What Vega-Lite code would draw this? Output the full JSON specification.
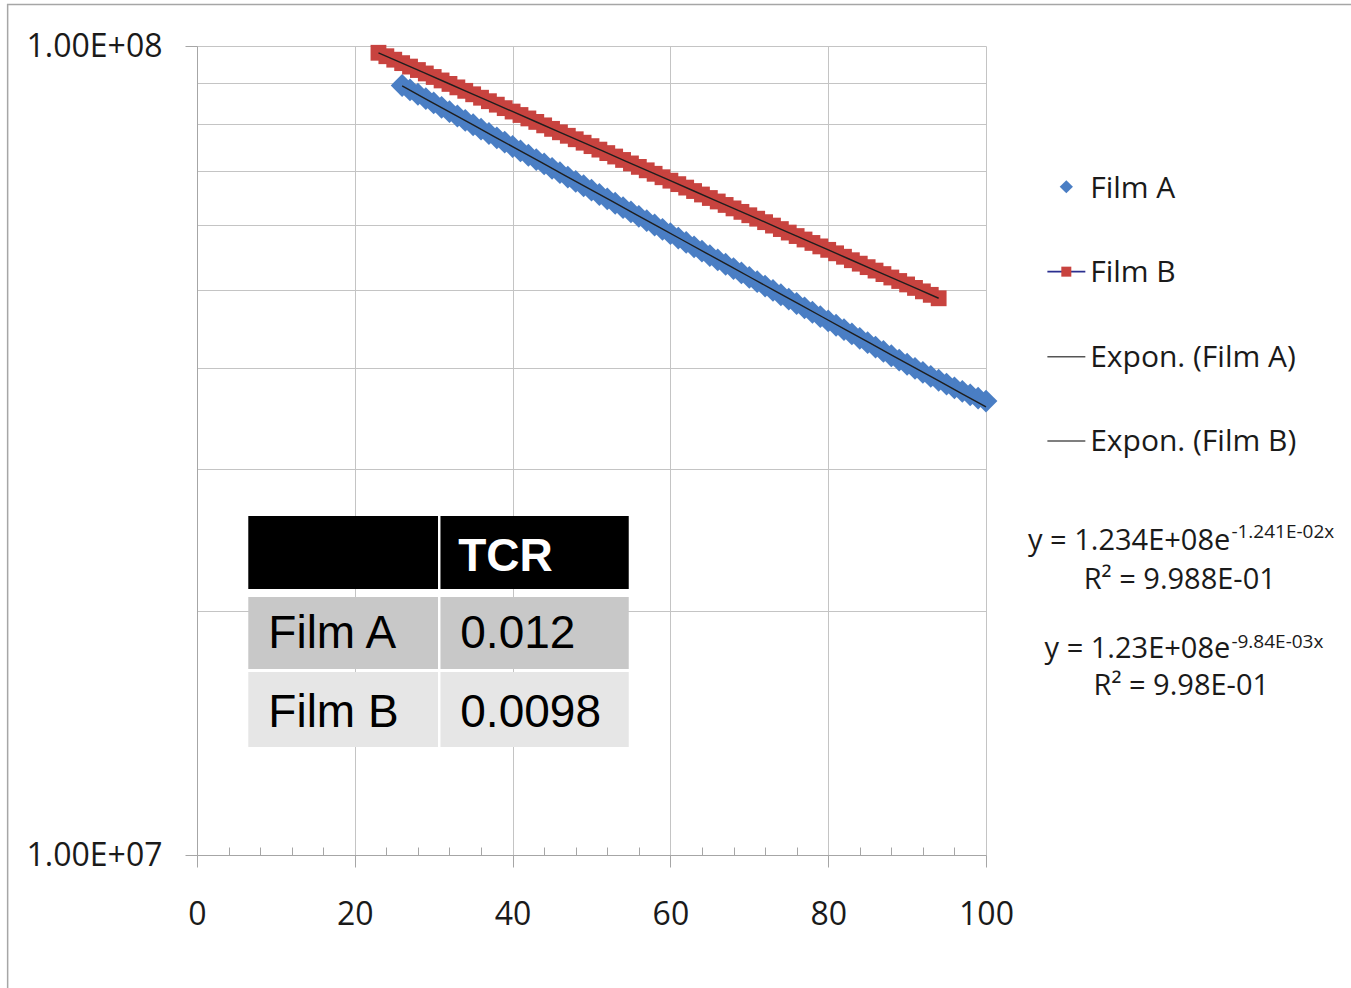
{
  "$schema": "https://vega.github.io/schema/vega-lite/v6.json",
  "width": 789,
  "height": 809,
  "autosize": {"type": "none"},
  "padding": {"left": 197, "top": 46, "right": 365, "bottom": 133},
  "background": "white",
  "config": {"view": {"stroke": null}, "font": "Open Sans"},
  "data": {"name": "films"},
  "datasets": {
    "films": [
      {"series": "Film A", "x": 26, "y": 8.937e7}, {"series": "Film A", "x": 27, "y": 8.826e7}, {"series": "Film A", "x": 28, "y": 8.717e7}, {"series": "Film A", "x": 29, "y": 8.609e7}, {"series": "Film A", "x": 30, "y": 8.504e7},
      {"series": "Film A", "x": 31, "y": 8.399e7}, {"series": "Film A", "x": 32, "y": 8.295e7}, {"series": "Film A", "x": 33, "y": 8.193e7}, {"series": "Film A", "x": 34, "y": 8.092e7}, {"series": "Film A", "x": 35, "y": 7.992e7},
      {"series": "Film A", "x": 36, "y": 7.893e7}, {"series": "Film A", "x": 37, "y": 7.796e7}, {"series": "Film A", "x": 38, "y": 7.700e7}, {"series": "Film A", "x": 39, "y": 7.605e7}, {"series": "Film A", "x": 40, "y": 7.512e7},
      {"series": "Film A", "x": 41, "y": 7.419e7}, {"series": "Film A", "x": 42, "y": 7.328e7}, {"series": "Film A", "x": 43, "y": 7.238e7}, {"series": "Film A", "x": 44, "y": 7.149e7}, {"series": "Film A", "x": 45, "y": 7.060e7},
      {"series": "Film A", "x": 46, "y": 6.973e7}, {"series": "Film A", "x": 47, "y": 6.887e7}, {"series": "Film A", "x": 48, "y": 6.802e7}, {"series": "Film A", "x": 49, "y": 6.718e7}, {"series": "Film A", "x": 50, "y": 6.635e7},
      {"series": "Film A", "x": 51, "y": 6.553e7}, {"series": "Film A", "x": 52, "y": 6.472e7}, {"series": "Film A", "x": 53, "y": 6.392e7}, {"series": "Film A", "x": 54, "y": 6.313e7}, {"series": "Film A", "x": 55, "y": 6.236e7},
      {"series": "Film A", "x": 56, "y": 6.159e7}, {"series": "Film A", "x": 57, "y": 6.083e7}, {"series": "Film A", "x": 58, "y": 6.008e7}, {"series": "Film A", "x": 59, "y": 5.934e7}, {"series": "Film A", "x": 60, "y": 5.861e7},
      {"series": "Film A", "x": 61, "y": 5.789e7}, {"series": "Film A", "x": 62, "y": 5.718e7}, {"series": "Film A", "x": 63, "y": 5.647e7}, {"series": "Film A", "x": 64, "y": 5.577e7}, {"series": "Film A", "x": 65, "y": 5.508e7},
      {"series": "Film A", "x": 66, "y": 5.440e7}, {"series": "Film A", "x": 67, "y": 5.373e7}, {"series": "Film A", "x": 68, "y": 5.307e7}, {"series": "Film A", "x": 69, "y": 5.242e7}, {"series": "Film A", "x": 70, "y": 5.177e7},
      {"series": "Film A", "x": 71, "y": 5.113e7}, {"series": "Film A", "x": 72, "y": 5.050e7}, {"series": "Film A", "x": 73, "y": 4.988e7}, {"series": "Film A", "x": 74, "y": 4.926e7}, {"series": "Film A", "x": 75, "y": 4.865e7},
      {"series": "Film A", "x": 76, "y": 4.805e7}, {"series": "Film A", "x": 77, "y": 4.746e7}, {"series": "Film A", "x": 78, "y": 4.687e7}, {"series": "Film A", "x": 79, "y": 4.629e7}, {"series": "Film A", "x": 80, "y": 4.573e7},
      {"series": "Film A", "x": 81, "y": 4.517e7}, {"series": "Film A", "x": 82, "y": 4.461e7}, {"series": "Film A", "x": 83, "y": 4.406e7}, {"series": "Film A", "x": 84, "y": 4.352e7}, {"series": "Film A", "x": 85, "y": 4.298e7},
      {"series": "Film A", "x": 86, "y": 4.245e7}, {"series": "Film A", "x": 87, "y": 4.193e7}, {"series": "Film A", "x": 88, "y": 4.141e7}, {"series": "Film A", "x": 89, "y": 4.090e7}, {"series": "Film A", "x": 90, "y": 4.042e7},
      {"series": "Film A", "x": 91, "y": 3.995e7}, {"series": "Film A", "x": 92, "y": 3.950e7}, {"series": "Film A", "x": 93, "y": 3.905e7}, {"series": "Film A", "x": 94, "y": 3.862e7}, {"series": "Film A", "x": 95, "y": 3.820e7},
      {"series": "Film A", "x": 96, "y": 3.780e7}, {"series": "Film A", "x": 97, "y": 3.742e7}, {"series": "Film A", "x": 98, "y": 3.705e7}, {"series": "Film A", "x": 99, "y": 3.670e7}, {"series": "Film A", "x": 100, "y": 3.640e7},
      {"series": "Film B", "x": 23, "y": 9.809e7}, {"series": "Film B", "x": 24, "y": 9.713e7}, {"series": "Film B", "x": 25, "y": 9.618e7}, {"series": "Film B", "x": 26, "y": 9.524e7}, {"series": "Film B", "x": 27, "y": 9.431e7},
      {"series": "Film B", "x": 28, "y": 9.339e7}, {"series": "Film B", "x": 29, "y": 9.248e7}, {"series": "Film B", "x": 30, "y": 9.156e7}, {"series": "Film B", "x": 31, "y": 9.066e7}, {"series": "Film B", "x": 32, "y": 8.977e7},
      {"series": "Film B", "x": 33, "y": 8.889e7}, {"series": "Film B", "x": 34, "y": 8.802e7}, {"series": "Film B", "x": 35, "y": 8.716e7}, {"series": "Film B", "x": 36, "y": 8.631e7}, {"series": "Film B", "x": 37, "y": 8.546e7},
      {"series": "Film B", "x": 38, "y": 8.462e7}, {"series": "Film B", "x": 39, "y": 8.379e7}, {"series": "Film B", "x": 40, "y": 8.298e7}, {"series": "Film B", "x": 41, "y": 8.217e7}, {"series": "Film B", "x": 42, "y": 8.137e7},
      {"series": "Film B", "x": 43, "y": 8.057e7}, {"series": "Film B", "x": 44, "y": 7.978e7}, {"series": "Film B", "x": 45, "y": 7.899e7}, {"series": "Film B", "x": 46, "y": 7.822e7}, {"series": "Film B", "x": 47, "y": 7.745e7},
      {"series": "Film B", "x": 48, "y": 7.669e7}, {"series": "Film B", "x": 49, "y": 7.594e7}, {"series": "Film B", "x": 50, "y": 7.520e7}, {"series": "Film B", "x": 51, "y": 7.446e7}, {"series": "Film B", "x": 52, "y": 7.373e7},
      {"series": "Film B", "x": 53, "y": 7.301e7}, {"series": "Film B", "x": 54, "y": 7.230e7}, {"series": "Film B", "x": 55, "y": 7.159e7}, {"series": "Film B", "x": 56, "y": 7.089e7}, {"series": "Film B", "x": 57, "y": 7.020e7},
      {"series": "Film B", "x": 58, "y": 6.951e7}, {"series": "Film B", "x": 59, "y": 6.883e7}, {"series": "Film B", "x": 60, "y": 6.816e7}, {"series": "Film B", "x": 61, "y": 6.749e7}, {"series": "Film B", "x": 62, "y": 6.683e7},
      {"series": "Film B", "x": 63, "y": 6.618e7}, {"series": "Film B", "x": 64, "y": 6.553e7}, {"series": "Film B", "x": 65, "y": 6.488e7}, {"series": "Film B", "x": 66, "y": 6.424e7}, {"series": "Film B", "x": 67, "y": 6.361e7},
      {"series": "Film B", "x": 68, "y": 6.299e7}, {"series": "Film B", "x": 69, "y": 6.237e7}, {"series": "Film B", "x": 70, "y": 6.177e7}, {"series": "Film B", "x": 71, "y": 6.117e7}, {"series": "Film B", "x": 72, "y": 6.057e7},
      {"series": "Film B", "x": 73, "y": 5.998e7}, {"series": "Film B", "x": 74, "y": 5.939e7}, {"series": "Film B", "x": 75, "y": 5.880e7}, {"series": "Film B", "x": 76, "y": 5.822e7}, {"series": "Film B", "x": 77, "y": 5.765e7},
      {"series": "Film B", "x": 78, "y": 5.709e7}, {"series": "Film B", "x": 79, "y": 5.653e7}, {"series": "Film B", "x": 80, "y": 5.598e7}, {"series": "Film B", "x": 81, "y": 5.543e7}, {"series": "Film B", "x": 82, "y": 5.489e7},
      {"series": "Film B", "x": 83, "y": 5.435e7}, {"series": "Film B", "x": 84, "y": 5.382e7}, {"series": "Film B", "x": 85, "y": 5.329e7}, {"series": "Film B", "x": 86, "y": 5.277e7}, {"series": "Film B", "x": 87, "y": 5.225e7},
      {"series": "Film B", "x": 88, "y": 5.174e7}, {"series": "Film B", "x": 89, "y": 5.123e7}, {"series": "Film B", "x": 90, "y": 5.073e7}, {"series": "Film B", "x": 91, "y": 5.023e7}, {"series": "Film B", "x": 92, "y": 4.974e7},
      {"series": "Film B", "x": 93, "y": 4.925e7}, {"series": "Film B", "x": 94, "y": 4.877e7}
    ]
  },
  "layer": [
    {
      "mark": {"type": "point", "filled": true, "opacity": 1},
      "encoding": {
        "x": {
          "field": "x", "type": "quantitative",
          "scale": {"domain": [0, 100], "nice": false, "zero": false},
          "axis": {
            "orient": "bottom", "values": [0, 20, 40, 60, 80, 100], "title": null,
            "grid": true, "gridColor": "#c4c4c4", "gridWidth": 1,
            "domainColor": "#a6a6a6", "tickColor": "#a6a6a6", "tickSize": 12,
            "labelFont": "Open Sans", "labelFontSize": 32, "labelColor": "#1a1a1a",
            "labelPadding": 32, "labelFlush": false, "labelOverlap": false
          }
        },
        "y": {
          "field": "y", "type": "quantitative",
          "scale": {"type": "log", "domain": [10000000, 100000000], "nice": false},
          "axis": {
            "orient": "left",
            "values": [10000000, 20000000, 30000000, 40000000, 50000000, 60000000, 70000000, 80000000, 90000000, 100000000],
            "title": null, "grid": true, "gridColor": "#c4c4c4", "gridWidth": 1,
            "domainColor": "#a6a6a6", "tickColor": "#a6a6a6", "tickSize": 12,
            "tickOpacity": {"condition": {"test": "datum.value > 99000000 || datum.value < 10100000", "value": 1}, "value": 0},
            "labelExpr": "datum.value > 99000000 ? '1.00E+08' : (datum.value < 10100000 ? '1.00E+07' : '')",
            "labelFont": "Open Sans", "labelFontSize": 32, "labelColor": "#1a1a1a",
            "labelPadding": 23, "labelOverlap": false
          }
        },
        "color": {
          "field": "series", "type": "nominal",
          "scale": {"domain": ["Film A", "Film B"], "range": ["#4a7ec4", "#c8433f"]},
          "legend": null
        },
        "shape": {
          "field": "series", "type": "nominal",
          "scale": {"domain": ["Film A", "Film B"], "range": ["diamond", "square"]},
          "legend": null
        },
        "size": {
          "field": "series", "type": "ordinal",
          "scale": {"domain": ["Film A", "Film B"], "range": [520, 250]},
          "legend": null
        }
      }
    },
    {
      "transform": [{"regression": "y", "on": "x", "groupby": ["series"], "method": "exp"}],
      "mark": {"type": "line", "color": "#1e1e1e", "strokeWidth": 1.4},
      "encoding": {
        "x": {
          "field": "x", "type": "quantitative",
          "axis": {
            "orient": "bottom", "title": null, "grid": false, "labels": false, "domain": false,
            "values": [4, 8, 12, 16, 24, 28, 32, 36, 44, 48, 52, 56, 64, 68, 72, 76, 84, 88, 92, 96],
            "tickSize": -8, "tickColor": "#a6a6a6"
          }
        },
        "y": {"field": "y", "type": "quantitative"},
        "detail": {"field": "series"}
      }
    },
    {
      "data": {"values": [{"frame": "chart area"}]},
      "mark": {"type": "rect", "fill": "transparent", "stroke": "#a6a6a6", "strokeWidth": 1.5},
      "encoding": {
        "x": {"datum": -24.0, "type": "quantitative", "axis": null},
        "x2": {"datum": 150},
        "y": {"datum": 112530000, "type": "quantitative"},
        "y2": {"datum": 6000000}
      }
    },
    {
      "data": {"values": [{"label": "Film A"}]},
      "mark": {"type": "point", "shape": "diamond", "filled": true, "opacity": 1, "size": 175, "color": "#4a7ec4"},
      "encoding": {
        "x": {"datum": 110.18, "type": "quantitative", "axis": null},
        "y": {"datum": 66990000, "type": "quantitative"}
      }
    },
    {
      "data": {"values": [{"label": "Film B"}]},
      "mark": {"type": "rule", "color": "#2a2f8f", "strokeWidth": 1.6},
      "encoding": {
        "x": {"datum": 107.78, "type": "quantitative", "axis": null},
        "x2": {"datum": 112.59},
        "y": {"datum": 52610000, "type": "quantitative"}
      }
    },
    {
      "data": {"values": [{"label": "Film B"}]},
      "mark": {"type": "point", "shape": "square", "filled": true, "opacity": 1, "size": 100, "color": "#c8433f"},
      "encoding": {
        "x": {"datum": 110.18, "type": "quantitative", "axis": null},
        "y": {"datum": 52610000, "type": "quantitative"}
      }
    },
    {
      "data": {"values": [{"label": "Expon. (Film A)"}]},
      "mark": {"type": "rule", "color": "#555555", "strokeWidth": 1.5},
      "encoding": {
        "x": {"datum": 107.78, "type": "quantitative", "axis": null},
        "x2": {"datum": 112.59},
        "y": {"datum": 41300000, "type": "quantitative"}
      }
    },
    {
      "data": {"values": [{"label": "Expon. (Film B)"}]},
      "mark": {"type": "rule", "color": "#555555", "strokeWidth": 1.5},
      "encoding": {
        "x": {"datum": 107.78, "type": "quantitative", "axis": null},
        "x2": {"datum": 112.59},
        "y": {"datum": 32490000, "type": "quantitative"}
      }
    },
    {
      "data": {"values": [{"label": "Film A"}]},
      "mark": {"type": "text", "align": "left", "baseline": "middle", "font": "Open Sans", "fontSize": 30, "color": "#1a1a1a"},
      "encoding": {
        "x": {"datum": 113.2, "type": "quantitative", "axis": null},
        "y": {"datum": 66630000, "type": "quantitative"},
        "text": {"field": "label"}
      }
    },
    {
      "data": {"values": [{"label": "Film B"}]},
      "mark": {"type": "text", "align": "left", "baseline": "middle", "font": "Open Sans", "fontSize": 30, "color": "#1a1a1a"},
      "encoding": {
        "x": {"datum": 113.2, "type": "quantitative", "axis": null},
        "y": {"datum": 52360000, "type": "quantitative"},
        "text": {"field": "label"}
      }
    },
    {
      "data": {"values": [{"label": "Expon. (Film A)"}]},
      "mark": {"type": "text", "align": "left", "baseline": "middle", "font": "Open Sans", "fontSize": 30, "color": "#1a1a1a"},
      "encoding": {
        "x": {"datum": 113.2, "type": "quantitative", "axis": null},
        "y": {"datum": 41100000, "type": "quantitative"},
        "text": {"field": "label"}
      }
    },
    {
      "data": {"values": [{"label": "Expon. (Film B)"}]},
      "mark": {"type": "text", "align": "left", "baseline": "middle", "font": "Open Sans", "fontSize": 30, "color": "#1a1a1a"},
      "encoding": {
        "x": {"datum": 113.2, "type": "quantitative", "axis": null},
        "y": {"datum": 32430000, "type": "quantitative"},
        "text": {"field": "label"}
      }
    },
    {
      "data": {"values": [{"t": "y = 1.234E+08e"}]},
      "mark": {"type": "text", "align": "right", "baseline": "middle", "font": "Open Sans", "fontSize": 29, "color": "#1a1a1a"},
      "encoding": {
        "x": {"datum": 130.96, "type": "quantitative", "axis": null},
        "y": {"datum": 24445000, "type": "quantitative"},
        "text": {"field": "t"}
      }
    },
    {
      "data": {"values": [{"t": "-1.241E-02x"}]},
      "mark": {"type": "text", "align": "left", "baseline": "middle", "font": "Open Sans", "fontSize": 19, "color": "#1a1a1a"},
      "encoding": {
        "x": {"datum": 131.1, "type": "quantitative", "axis": null},
        "y": {"datum": 25100000, "type": "quantitative"},
        "text": {"field": "t"}
      }
    },
    {
      "data": {"values": [{"t": "R² = 9.988E-01"}]},
      "mark": {"type": "text", "align": "center", "baseline": "middle", "font": "Open Sans", "fontSize": 29, "color": "#1a1a1a"},
      "encoding": {
        "x": {"datum": 124.56, "type": "quantitative", "axis": null},
        "y": {"datum": 21875000, "type": "quantitative"},
        "text": {"field": "t"}
      }
    },
    {
      "data": {"values": [{"t": "y = 1.23E+08e"}]},
      "mark": {"type": "text", "align": "right", "baseline": "middle", "font": "Open Sans", "fontSize": 29, "color": "#1a1a1a"},
      "encoding": {
        "x": {"datum": 130.96, "type": "quantitative", "axis": null},
        "y": {"datum": 17960000, "type": "quantitative"},
        "text": {"field": "t"}
      }
    },
    {
      "data": {"values": [{"t": "-9.84E-03x"}]},
      "mark": {"type": "text", "align": "left", "baseline": "middle", "font": "Open Sans", "fontSize": 19, "color": "#1a1a1a"},
      "encoding": {
        "x": {"datum": 131.1, "type": "quantitative", "axis": null},
        "y": {"datum": 18340000, "type": "quantitative"},
        "text": {"field": "t"}
      }
    },
    {
      "data": {"values": [{"t": "R² = 9.98E-01"}]},
      "mark": {"type": "text", "align": "center", "baseline": "middle", "font": "Open Sans", "fontSize": 29, "color": "#1a1a1a"},
      "encoding": {
        "x": {"datum": 124.75, "type": "quantitative", "axis": null},
        "y": {"datum": 16180000, "type": "quantitative"},
        "text": {"field": "t"}
      }
    },
    {
      "data": {"values": [{"row": "header"}]},
      "mark": {"type": "rect", "fill": "#000000"},
      "encoding": {
        "x": {"datum": 6.5, "type": "quantitative", "axis": null},
        "x2": {"datum": 54.72},
        "y": {"datum": 26245000, "type": "quantitative"},
        "y2": {"datum": 21322000}
      }
    },
    {
      "data": {"values": [{"row": "Film A"}]},
      "mark": {"type": "rect", "fill": "#c8c8c8"},
      "encoding": {
        "x": {"datum": 6.5, "type": "quantitative", "axis": null},
        "x2": {"datum": 54.72},
        "y": {"datum": 20842000, "type": "quantitative"},
        "y2": {"datum": 16982000}
      }
    },
    {
      "data": {"values": [{"row": "Film B"}]},
      "mark": {"type": "rect", "fill": "#e6e6e6"},
      "encoding": {
        "x": {"datum": 6.5, "type": "quantitative", "axis": null},
        "x2": {"datum": 54.72},
        "y": {"datum": 16838000, "type": "quantitative"},
        "y2": {"datum": 13600000}
      }
    },
    {
      "data": {"values": [{"divider": "column"}]},
      "mark": {"type": "rule", "color": "#ffffff", "strokeWidth": 2.5},
      "encoding": {
        "x": {"datum": 30.7, "type": "quantitative", "axis": null},
        "y": {"datum": 26300000, "type": "quantitative"},
        "y2": {"datum": 13550000}
      }
    },
    {
      "data": {"values": [{"text": "TCR"}]},
      "mark": {"type": "text", "align": "left", "baseline": "middle", "font": "Liberation Sans", "fontSize": 46, "fontWeight": "bold", "color": "#ffffff"},
      "encoding": {
        "x": {"datum": 33.1, "type": "quantitative", "axis": null},
        "y": {"datum": 23373000, "type": "quantitative"},
        "text": {"field": "text"}
      }
    },
    {
      "data": {"values": [{"text": "Film A"}]},
      "mark": {"type": "text", "align": "left", "baseline": "middle", "font": "Liberation Sans", "fontSize": 46, "color": "#000000"},
      "encoding": {
        "x": {"datum": 9.04, "type": "quantitative", "axis": null},
        "y": {"datum": 18752000, "type": "quantitative"},
        "text": {"field": "text"}
      }
    },
    {
      "data": {"values": [{"text": "0.012"}]},
      "mark": {"type": "text", "align": "left", "baseline": "middle", "font": "Liberation Sans", "fontSize": 46, "color": "#000000"},
      "encoding": {
        "x": {"datum": 33.37, "type": "quantitative", "axis": null},
        "y": {"datum": 18752000, "type": "quantitative"},
        "text": {"field": "text"}
      }
    },
    {
      "data": {"values": [{"text": "Film B"}]},
      "mark": {"type": "text", "align": "left", "baseline": "middle", "font": "Liberation Sans", "fontSize": 46, "color": "#000000"},
      "encoding": {
        "x": {"datum": 9.04, "type": "quantitative", "axis": null},
        "y": {"datum": 14996000, "type": "quantitative"},
        "text": {"field": "text"}
      }
    },
    {
      "data": {"values": [{"text": "0.0098"}]},
      "mark": {"type": "text", "align": "left", "baseline": "middle", "font": "Liberation Sans", "fontSize": 46, "color": "#000000"},
      "encoding": {
        "x": {"datum": 33.37, "type": "quantitative", "axis": null},
        "y": {"datum": 14996000, "type": "quantitative"},
        "text": {"field": "text"}
      }
    }
  ],
  "resolve": {"axis": {"x": "independent"}}
}
